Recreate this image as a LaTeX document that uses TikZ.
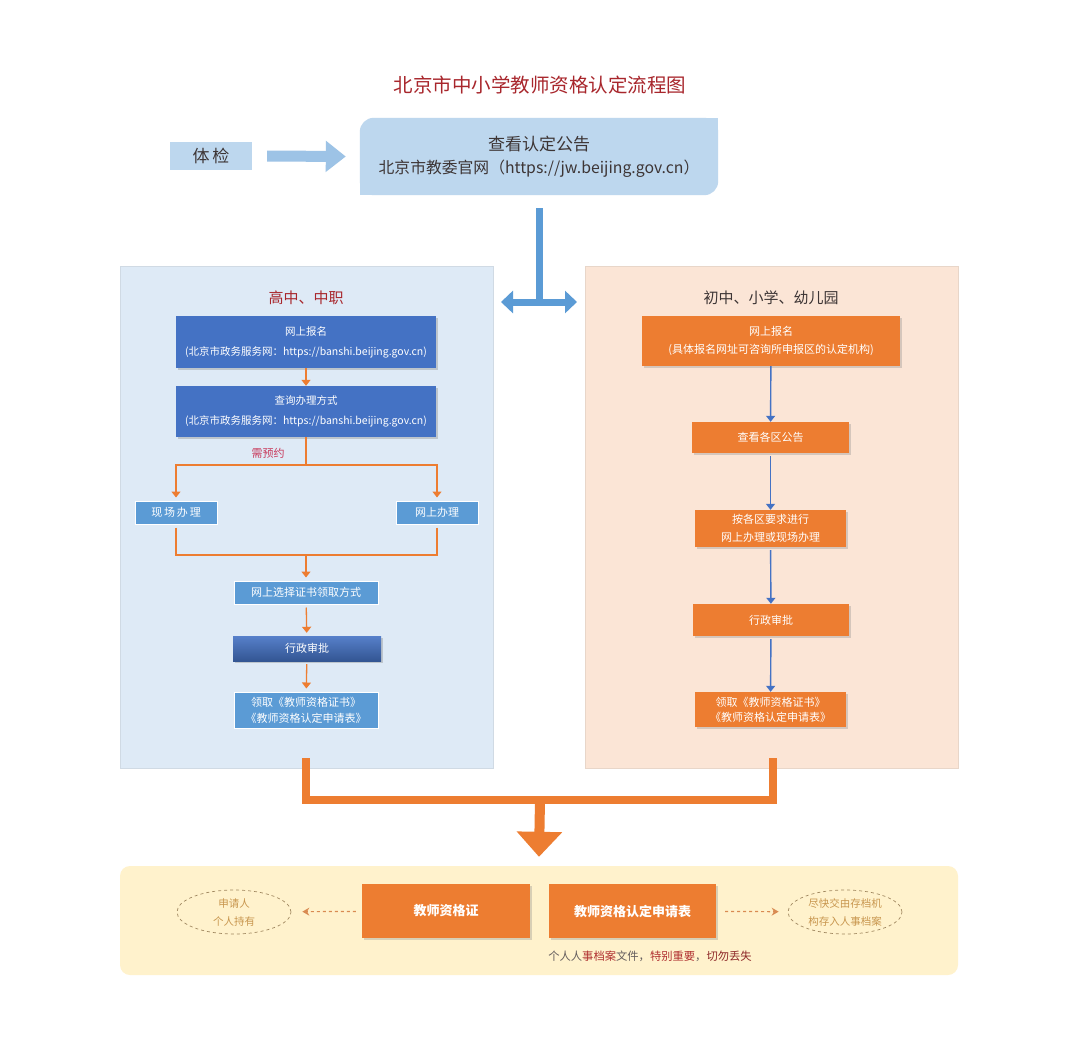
\documentclass[tikz,border=0pt]{standalone}
\usepackage{fontspec}
\setmainfont{Noto Sans CJK SC}
\usepackage{xcolor}
\usepackage{tikz}
\usetikzlibrary{arrows.meta, shapes.geometric, shadows, backgrounds}
\definecolor{title}{HTML}{A8262C}
\definecolor{ink}{HTML}{3D3535}
\definecolor{pale}{HTML}{BDD7EE}
\definecolor{arrowblue}{HTML}{9DC3E6}
\definecolor{linkblue}{HTML}{5B9BD5}
\definecolor{deepblue}{HTML}{4472C4}
\definecolor{paneblue}{HTML}{DEEAF6}
\definecolor{panepeach}{HTML}{FBE5D6}
\definecolor{paneyellow}{HTML}{FFF2CC}
\definecolor{orange}{HTML}{ED7D31}
\definecolor{note}{HTML}{B03030}
\definecolor{tan}{HTML}{A08860}
\definecolor{tantext}{HTML}{C8964E}
\definecolor{dash}{HTML}{D98B52}
\definecolor{pink}{HTML}{C8385A}

\begin{document}
\begin{tikzpicture}[x=1pt, y=-1pt,
  pane/.style={draw=#1!85!gray, fill=#1, line width=0.8pt, inner sep=0pt},
  head/.style={font=\fontsize{15}{18}\selectfont},
  bluebox/.style={fill=deepblue, text=white, align=center, inner sep=0pt,
    font=\fontsize{10.5}{20}\selectfont,
    drop shadow={shadow xshift=1.5pt, shadow yshift=-2pt, opacity=0.35}},
  lightbox/.style={fill=linkblue, text=white, align=center, inner sep=0pt,
    draw=white, line width=1pt, font=\fontsize{11}{16}\selectfont},
  orbox/.style={fill=orange, text=white, align=center, inner sep=0pt,
    font=\fontsize{11}{18}\selectfont,
    drop shadow={shadow xshift=1.5pt, shadow yshift=-2pt, opacity=0.3}},
  orflow/.style={draw=orange, line width=1.3pt},
  orarrow/.style={orflow, -{Triangle[width=9pt, length=6pt]}},
  bluearrow/.style={draw=deepblue, line width=1.4pt, -{Triangle[width=9pt, length=6pt]}},
  oval/.style={ellipse, draw=tan, dashed, line width=0.7pt, text=tantext, minimum width=114pt,
    minimum height=44pt, inner sep=0pt, align=center, font=\fontsize{10.5}{18}\selectfont},
  dasharrow/.style={draw=dash, dashed, line width=1.2pt, -{Stealth[width=8pt, length=7pt]}}
]
\useasboundingbox (0,0) rectangle (1080,1047);

% title and the first step
\node[text=title, font=\fontsize{19.5}{22}\selectfont] (title) at (540,85) {北京市中小学教师资格认定流程图};
\node[fill=pale, text=ink, minimum width=82pt, minimum height=28pt, inner sep=0pt,
  font=\fontsize{17}{20}\selectfont] (exam) at (211,156) {体\,检};
\node[minimum width=358pt, minimum height=77pt, inner sep=0pt, align=center, text=ink,
  font=\fontsize{17}{23}\selectfont] (notice) at (539,156.5)
  {查看认定公告\\{\fontsize{15.8}{23}\selectfont 北京市教委官网（https://jw.beijing.gov.cn）}};
\begin{scope}[on background layer]
  \fill[white] (0,0) rectangle (1080,1047);
  \fill[pale, rounded corners=14pt] (notice.south west) rectangle (notice.north east);
  \fill[pale] (notice.north east) rectangle ++(-16,16);
  \fill[pale] (notice.south west) rectangle ++(16,-16);
\end{scope}
\draw[arrowblue, line width=11pt, -{Triangle[width=30pt, length=20pt]}]
  ([xshift=15pt]exam.east) -- ([xshift=-14pt]notice.west);

% split into the two panels
\coordinate (split) at (539,302);
\coordinate (splitL) at (501,302);
\coordinate (splitR) at (577,302);
\draw[linkblue, line width=7pt] ([yshift=-13pt]notice.south) -- (split);
\draw[linkblue, line width=7pt, {Triangle[width=22pt, length=12pt]}-{Triangle[width=22pt, length=12pt]}] (splitL) -- (splitR);

\node[pane=paneblue, minimum width=373pt, minimum height=502pt] (senior) at (306.5,517) {};
\node[pane=panepeach, minimum width=373pt, minimum height=502pt] (junior) at (771.5,517) {};

% senior high and vocational
\node[head, text=title] (seniorhead) at (306,298) {高中、中职};
\node[bluebox, minimum width=260pt, minimum height=52pt] (sapply) at (306,342)
  {网上报名\\(北京市政务服务网：https://banshi.beijing.gov.cn)};
\node[bluebox, minimum width=260pt, minimum height=51pt] (squery) at (306,411.5)
  {查询办理方式\\(北京市政务服务网：https://banshi.beijing.gov.cn)};
\node[lightbox, minimum width=82pt, minimum height=23pt] (onsite) at (176,512.5) {现\,场\,办\,理};
\node[lightbox, minimum width=82pt, minimum height=23pt] (online) at (437,512.5) {网上办理};
\node[lightbox, minimum width=144pt, minimum height=23pt] (spick) at (306,592.5) {网上选择证书领取方式};
\node[bluebox, top color=deepblue!90!white, bottom color=deepblue!75!black, font=\fontsize{11}{16}\selectfont,
  minimum width=148pt, minimum height=25pt] (sapprove) at (307,648.5) {行政审批};
\node[lightbox, minimum width=144pt, minimum height=36pt] (scollect) at (306,710)
  {领取《教师资格证书》\\《教师资格认定申请表》};
\node[text=pink, font=\fontsize{11}{14}\selectfont] (booking) at (268,453) {需预约};

\coordinate (fork) at (306,465);
\coordinate (join) at (306,555);
\draw[orarrow] (sapply) -- (squery);
\draw[orflow] (squery) -- (fork);
\draw[orarrow, shorten >=3pt] (fork) -| (onsite);
\draw[orarrow, shorten >=3pt] (fork) -| (online);
\draw[orflow] ([yshift=-3pt]onsite.south) |- (join);
\draw[orflow] ([yshift=-3pt]online.south) |- (join);
\draw[orarrow, shorten >=3pt] (join) -- (spick);
\draw[orarrow, shorten <=3pt, shorten >=3pt] (spick) -- (sapprove);
\draw[orarrow, shorten <=3pt, shorten >=3pt] (sapprove) -- (scollect);

% junior, primary and kindergarten
\node[head, text=ink] (juniorhead) at (771,298) {初中、小学、幼儿园};
\node[orbox, minimum width=258pt, minimum height=50pt] (japply) at (771,341)
  {网上报名\\(具体报名网址可咨询所申报区的认定机构)};
\node[orbox, minimum width=157pt, minimum height=31pt] (jnotice) at (770.5,437.5) {查看各区公告};
\node[orbox, minimum width=151pt, minimum height=37pt] (jhandle) at (770.5,528.5)
  {按各区要求进行\\网上办理或现场办理};
\node[orbox, minimum width=156pt, minimum height=32pt] (japprove) at (771,620) {行政审批};
\node[orbox, minimum width=151pt, minimum height=35pt, font=\fontsize{11}{15}\selectfont] (jcollect) at (770.5,709.5)
  {领取《教师资格证书》\\《教师资格认定申请表》};
\draw[bluearrow] (japply) -- (jnotice);
\draw[bluearrow, shorten <=3pt] (jnotice) -- (jhandle);
\draw[bluearrow, shorten <=3pt] (jhandle) -- (japprove);
\draw[bluearrow, shorten <=3pt] (japprove) -- (jcollect);

% both lead to the same documents
\node[fill=paneyellow, rounded corners=10pt, minimum width=838pt, minimum height=109pt] (docs) at (539,920.5) {};
\coordinate (lout) at (306,758);
\coordinate (rout) at (773,758);
\coordinate (merge) at (540,800);
\draw[orange, line width=8pt, line join=miter] (lout) |- (merge) -| (rout);
\draw[orange, line width=10pt, -{Triangle[width=44pt, length=25pt]}] (merge) -- ([yshift=9pt]docs.north);

\node[orbox, minimum width=168pt, minimum height=54pt, font=\fontsize{13}{16}\selectfont\bfseries] (cert) at (446,911) {教师资格证};
\node[orbox, minimum width=167pt, minimum height=54pt, font=\fontsize{13}{16}\selectfont\bfseries] (form) at (632.5,911) {教师资格认定申请表};
\node[oval] (holder) at (234,912) {申请人\\个人持有};
\node[oval] (archive) at (845,912) {尽快交由存档机\\构存入人事档案};
\draw[dasharrow, shorten <=6pt, shorten >=11pt] (cert) -- (holder);
\draw[dasharrow, shorten <=9pt, shorten >=9pt] (form) -- (archive);
\node[font=\fontsize{11.3}{14}\selectfont, text=ink!80] (warn) at (650,956)
  {个人人{\color{note}事档案}文件，{\color{note}特别重要}，{\color{note!80!black}切勿丢失}};
\end{tikzpicture}
\end{document}
